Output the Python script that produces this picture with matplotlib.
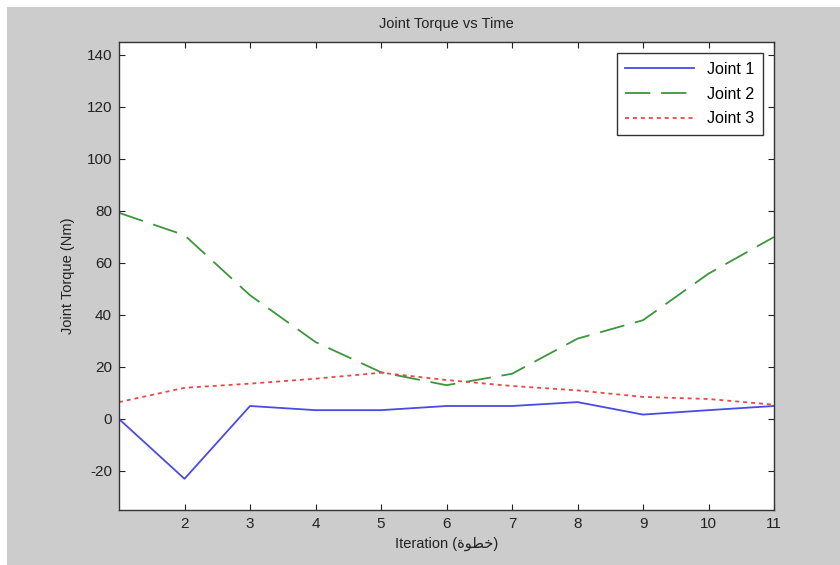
import numpy as np
import matplotlib.pyplot as plt
from matplotlib.patches import Rectangle

plt.rcParams['font.family'] = ['Liberation Sans', 'DejaVu Sans']
plt.rcParams['axes.unicode_minus'] = False

iteration = [1, 2, 3, 4, 5, 6, 7, 8, 9, 10, 11]
joint1 = [0, -23, 5, 3.4, 3.4, 5, 5, 6.5, 1.7, 3.4, 5]
joint2 = [79.3, 70.7, 47.6, 29.6, 18, 13, 17.4, 30.9, 38, 55.9, 70]
joint3 = [6.5, 12, 13.6, 15.5, 17.8, 15, 12.7, 11, 8.5, 7.7, 5.5]
xticks = [2, 3, 4, 5, 6, 7, 8, 9, 10, 11]
yticks = [-20, 0, 20, 40, 60, 80, 100, 120, 140]

# Arabic word pre-shaped (presentation forms, visual order) since matplotlib has no shaping
arabic_word = "\uFE93\uFEEE\uFEC4\uFEA7"

fig = plt.figure(figsize=(8.4, 5.65), dpi=100)
fig.patch.set_facecolor('white')
# MATLAB-like gray figure background with a thin white margin top/left
fig.patches.append(Rectangle((7 / 840, 0), 1, 1 - 7 / 565, transform=fig.transFigure,
                             facecolor='#cccccc', edgecolor='none', zorder=-10))

ax = fig.add_axes([119 / 840, 1 - 510 / 565, (774 - 119) / 840, (510 - 42) / 565])
ax.set_facecolor('white')

ax.plot(iteration, joint1, color='#4a4ae6', linewidth=1.3, label='Joint 1')
ax.plot(iteration, joint2, color='#3c963c', linewidth=1.3, dashes=(14, 6), label='Joint 2')
ax.plot(iteration, joint3, color='#e84848', linewidth=1.3, dashes=(2.2, 2.2), label='Joint 3')

ax.set_xlim(1, 11)
ax.set_ylim(-35, 145)
ax.set_xticks(xticks)
ax.set_yticks(yticks)
ax.tick_params(direction='in', top=True, right=True, length=4, width=0.8,
               labelsize=11, colors='#222222', pad=5)
for s in ax.spines.values():
    s.set_linewidth(1.0)
    s.set_color('#333333')

ax.set_title('Joint Torque vs Time', fontsize=10.5, color='#222222', pad=10)
ax.set_xlabel('Iteration (' + arabic_word + ')', fontsize=10.5, color='#222222', labelpad=4)
ax.set_ylabel('Joint Torque (Nm)', fontsize=10.5, color='#222222', labelpad=8)

leg = ax.legend(loc='upper right', fontsize=11.5, fancybox=False, framealpha=1,
                edgecolor='#333333', handlelength=4.3, borderaxespad=0.7,
                labelspacing=0.6, borderpad=0.55, handletextpad=0.8)
leg.get_frame().set_linewidth(1.0)

fig.savefig('out.png', dpi=100, facecolor=fig.get_facecolor())
print("done")
